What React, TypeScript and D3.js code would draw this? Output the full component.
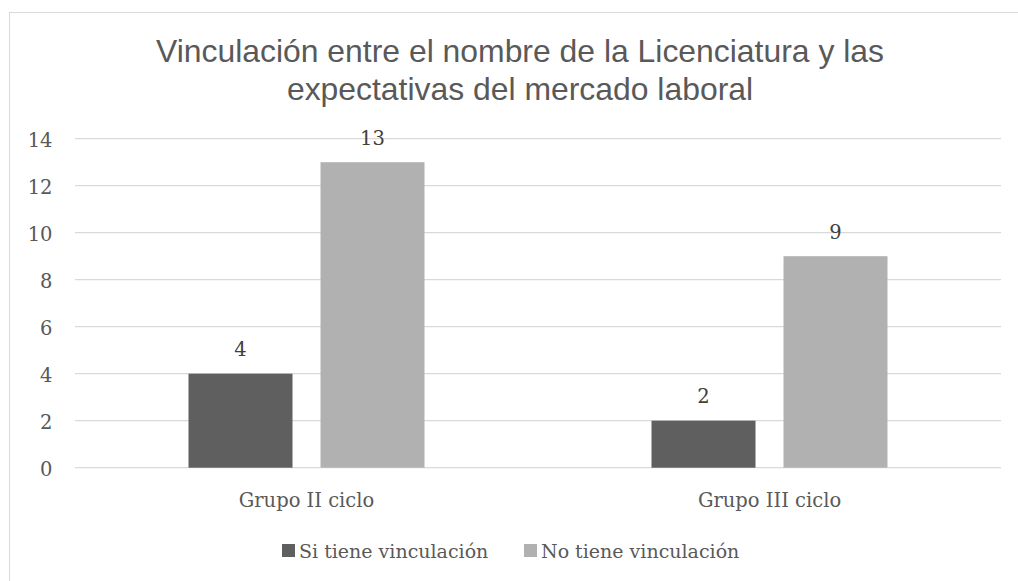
import React from "react";
import * as d3 from "d3";

const categories = ["Grupo II ciclo", "Grupo III ciclo"];
const seriesNames = ["Si tiene vinculación", "No tiene vinculación"];
const siValues = [4, 2];
const noValues = [13, 9];
const yTicks = [0, 2, 4, 6, 8, 10, 12, 14];
const titleLines = [
  "Vinculación entre el nombre de la Licenciatura y las",
  "expectativas del mercado laboral",
];
const colors = ["#5f5f5f", "#b1b1b1"];

export default function App() {
  const W = 1018;
  const H = 581;
  const plot = { left: 75, right: 1001, top: 138.7, bottom: 467.7 };
  const x = d3.scaleBand<string>().domain(categories).range([plot.left, plot.right]).padding(0);
  const y = d3.scaleLinear().domain([0, 14]).range([plot.bottom, plot.top]);
  const barW = 104;
  const gap = 28;
  const serif = "'DejaVu Serif', serif";
  const series = [siValues, noValues];

  return (
    <svg width={W} height={H} style={{ position: "absolute", left: 0, top: 0, background: "#fff" }}>
      <rect x={9.5} y={12.5} width={1040} height={600} fill="#fff" stroke="#d9d9d9" strokeWidth={1} />
      {titleLines.map((t, i) => (
        <text key={i} x={520} y={62 + i * 38} textAnchor="middle" fontFamily="'Liberation Sans', Arial, sans-serif" fontSize={31.9} fill="#595959">
          {t}
        </text>
      ))}
      {yTicks.map((t) => (
        <g key={t}>
          <line x1={plot.left} x2={plot.right} y1={y(t)} y2={y(t)} stroke="#d9d9d9" strokeWidth={1.3} />
          <text x={52.5} y={y(t) + 8} textAnchor="end" fontFamily={serif} fontSize={19.5} fill="#595959">
            {t}
          </text>
        </g>
      ))}
      {categories.map((c, ci) => {
        const cx = (x(c) as number) + x.bandwidth() / 2;
        const start = cx - barW - gap / 2;
        return (
          <g key={c}>
            {series.map((vals, si) => {
              const bx = start + si * (barW + gap);
              const v = vals[ci];
              return (
                <g key={si}>
                  <rect x={bx} y={y(v)} width={barW} height={y(0) - y(v)} fill={colors[si]} />
                  <text x={bx + barW / 2} y={y(v) - 17.4} textAnchor="middle" fontFamily={serif} fontSize={19.5} fill="#404040">
                    {v}
                  </text>
                </g>
              );
            })}
            <text x={cx} y={506.7} textAnchor="middle" fontFamily={serif} fontSize={19.5} fill="#595959">
              {c}
            </text>
          </g>
        );
      })}
      {seriesNames.map((s, i) => {
        const lx = [282, 524][i];
        return (
          <g key={s}>
            <rect x={lx} y={544} width={13} height={13} fill={colors[i]} />
            <text x={lx + 17} y={557.5} fontFamily={serif} fontSize={19} fill="#595959">
              {s}
            </text>
          </g>
        );
      })}
    </svg>
  );
}
